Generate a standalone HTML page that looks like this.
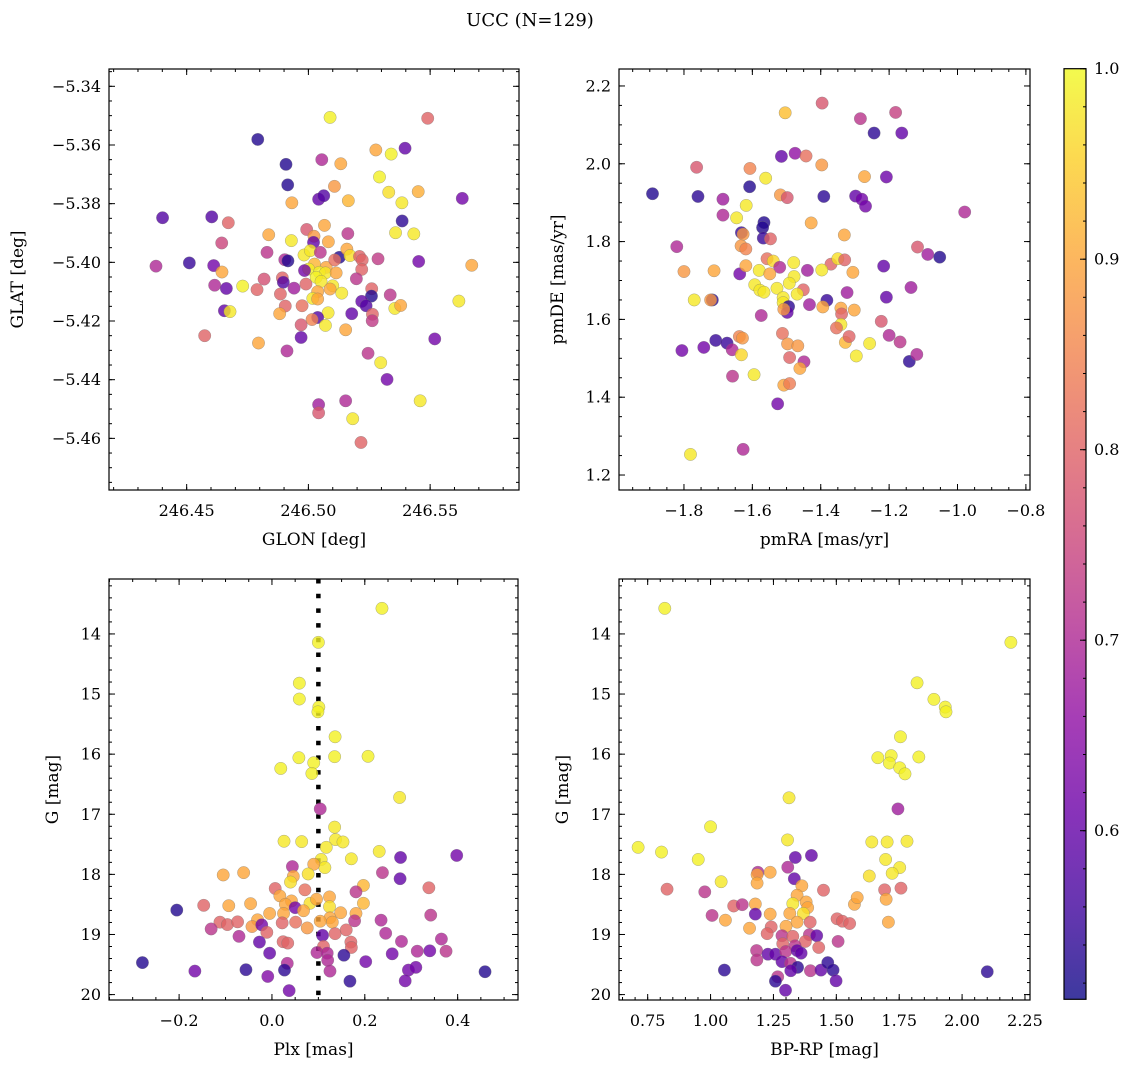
<!DOCTYPE html>
<html><head><meta charset="utf-8">
<style>
html,body{margin:0;padding:0;background:#fff;}
svg{display:block;font-family:"DejaVu Serif","Liberation Serif",serif;}
</style></head>
<body>
<svg id="fig" width="1136" height="1068" viewBox="0 0 1136 1068" xmlns="http://www.w3.org/2000/svg">
<text x="530" y="26" font-size="18" text-anchor="middle">UCC (N=129)</text>
</svg>
<script>
// ---------- Panel A: GLON / GLAT ----------
const glon=[246.5089,246.5490,246.4792,246.5277,246.5340,246.5397,246.5055,246.5133,246.4908,246.4915,246.5107,246.5292,246.5042,246.5063,246.4932,246.5164,246.5330,246.5451,246.5384,246.5632,246.4401,246.4603,246.4671,246.5385,246.5358,246.5433,246.4837,246.4993,246.5066,246.5162,246.4644,246.4930,246.5023,246.5082,246.5021,246.4830,246.4982,246.5008,246.5049,246.5127,246.5158,246.5171,246.5210,246.5221,246.5286,246.4903,246.4916,246.4374,246.4511,246.4611,246.4645,246.5453,246.5671,246.5025,246.5073,246.5108,246.5001,246.4984,246.5045,246.5070,246.5114,246.5219,246.5032,246.5197,246.4818,246.4893,246.4730,246.4615,246.4663,246.4789,246.4897,246.4941,246.4990,246.5052,246.5100,246.5089,246.5137,246.5260,246.5259,246.5336,246.4885,246.5038,246.5018,246.5038,246.5219,246.5237,246.5618,246.4655,246.4678,246.4905,246.4974,246.5355,246.5379,246.4882,246.5081,246.5178,246.5263,246.5262,246.5038,246.5015,246.4970,246.5070,246.5153,246.4574,246.4970,246.5519,246.4795,246.4912,246.5245,246.5297,246.5323,246.5459,246.5042,246.5153,246.5042,246.5182,246.5216];
const glat=[-5.3506,-5.3509,-5.3581,-5.3617,-5.3631,-5.3611,-5.3650,-5.3664,-5.3666,-5.3736,-5.3741,-5.3709,-5.3785,-5.3773,-5.3797,-5.3790,-5.3761,-5.3759,-5.3797,-5.3782,-5.3848,-5.3845,-5.3865,-5.3859,-5.3899,-5.3903,-5.3906,-5.3888,-5.3874,-5.3902,-5.3934,-5.3926,-5.3911,-5.3930,-5.3932,-5.3966,-5.3975,-5.3960,-5.3966,-5.3983,-5.3955,-5.3977,-5.3980,-5.3992,-5.3988,-5.3991,-5.3995,-5.4013,-5.4002,-5.4011,-5.4033,-5.3997,-5.4010,-5.4006,-5.4017,-5.3992,-5.4023,-5.4028,-5.4034,-5.4036,-5.4036,-5.4024,-5.4051,-5.4056,-5.4057,-5.4053,-5.4081,-5.4078,-5.4089,-5.4093,-5.4068,-5.4088,-5.4074,-5.4065,-5.4080,-5.4091,-5.4105,-5.4090,-5.4115,-5.4111,-5.4108,-5.4100,-5.4123,-5.4125,-5.4133,-5.4148,-5.4132,-5.4165,-5.4168,-5.4149,-5.4148,-5.4157,-5.4147,-5.4175,-5.4172,-5.4175,-5.4177,-5.4199,-5.4188,-5.4195,-5.4213,-5.4215,-5.4230,-5.4250,-5.4256,-5.4261,-5.4275,-5.4302,-5.4310,-5.4342,-5.4399,-5.4472,-5.4485,-5.4472,-5.4513,-5.4533,-5.4614];
const probA=[.99,.80,.53,.90,.99,.60,.70,.90,.53,.53,.88,.99,.60,.58,.90,.92,.97,.91,.98,.62,.58,.58,.80,.54,.98,.98,.90,.78,.90,.72,.75,.98,.88,.90,.60,.72,.98,.98,.72,.53,.90,.97,.80,.80,.73,.70,.53,.70,.55,.62,.90,.62,.90,.92,.90,.82,.99,.62,.99,.98,.90,.80,.99,.72,.77,.80,.99,.70,.60,.80,.58,.68,.80,.98,.98,.90,.98,.80,.53,.72,.80,.90,.98,.90,.60,.58,.98,.60,.98,.80,.82,.98,.90,.90,.98,.60,.80,.73,.58,.85,.78,.98,.90,.80,.60,.62,.90,.70,.72,.98,.62,.98,.68,.70,.78,.98,.80];
// ---------- Panel B: pmRA / pmDE ----------
const pmra=[-1.396,-1.504,-1.284,-1.181,-1.244,-1.163,-1.515,-1.475,-1.443,-1.397,-1.272,-1.208,-1.763,-1.607,-1.561,-1.892,-1.759,-1.608,-1.686,-1.518,-1.498,-1.391,-1.298,-1.280,-1.269,-1.618,-1.686,-1.646,-0.979,-1.428,-1.566,-1.570,-1.632,-1.627,-1.331,-1.568,-1.547,-1.821,-1.633,-1.619,-1.117,-1.087,-1.052,-1.557,-1.539,-1.520,-1.479,-1.370,-1.350,-1.330,-1.800,-1.712,-1.637,-1.619,-1.580,-1.549,-1.478,-1.439,-1.397,-1.306,-1.216,-1.593,-1.578,-1.566,-1.528,-1.492,-1.451,-1.510,-1.469,-1.323,-1.136,-1.770,-1.717,-1.722,-1.510,-1.382,-1.394,-1.433,-1.208,-1.494,-1.498,-1.508,-1.574,-1.341,-1.339,-1.302,-1.223,-1.341,-1.354,-1.512,-1.200,-1.168,-1.806,-1.742,-1.707,-1.674,-1.659,-1.638,-1.629,-1.497,-1.467,-1.328,-1.317,-1.257,-1.141,-1.119,-1.632,-1.491,-1.449,-1.461,-1.296,-1.658,-1.595,-1.508,-1.491,-1.526,-1.627,-1.781];
const pmde=[2.156,2.131,2.116,2.132,2.079,2.079,2.019,2.027,2.020,1.997,1.967,1.966,1.991,1.988,1.963,1.923,1.916,1.941,1.909,1.920,1.913,1.916,1.917,1.909,1.891,1.893,1.868,1.861,1.876,1.848,1.849,1.836,1.823,1.819,1.817,1.809,1.807,1.787,1.789,1.781,1.786,1.767,1.760,1.756,1.750,1.734,1.746,1.742,1.756,1.753,1.723,1.725,1.717,1.738,1.726,1.717,1.710,1.726,1.727,1.721,1.737,1.689,1.675,1.670,1.680,1.693,1.676,1.656,1.665,1.669,1.682,1.650,1.650,1.650,1.643,1.649,1.632,1.638,1.657,1.633,1.618,1.626,1.610,1.629,1.614,1.624,1.595,1.587,1.578,1.564,1.559,1.542,1.520,1.528,1.546,1.539,1.522,1.556,1.552,1.537,1.532,1.541,1.556,1.538,1.492,1.510,1.509,1.502,1.491,1.474,1.506,1.454,1.458,1.431,1.435,1.383,1.266,1.253];
const probB=[.78,.93,.72,.74,.54,.60,.60,.66,.82,.88,.90,.61,.78,.85,.98,.53,.54,.53,.68,.88,.78,.54,.60,.62,.62,.98,.70,.98,.70,.90,.53,.53,.55,.88,.90,.55,.80,.70,.88,.85,.78,.68,.53,.82,.96,.70,.98,.80,.97,.80,.88,.90,.62,.90,.98,.90,.98,.68,.98,.90,.60,.98,.98,.98,.98,.98,.80,.98,.98,.68,.68,.98,.54,.88,.98,.55,.90,.68,.60,.54,.60,.88,.70,.90,.80,.90,.78,.98,.82,.82,.70,.72,.62,.62,.55,.55,.70,.85,.88,.88,.88,.92,.80,.98,.54,.70,.96,.80,.70,.90,.98,.72,.98,.90,.84,.62,.70,.98];
// ---------- Panel C: Plx / G ----------
const plx=[0.237,0.100,0.059,0.059,0.101,0.099,0.136,0.058,0.135,0.207,0.019,0.090,0.086,0.275,0.104,0.135,0.026,0.064,0.137,0.153,0.117,0.231,0.106,0.171,0.277,0.398,0.044,0.114,0.090,-0.105,-0.061,0.078,0.238,0.276,0.046,0.040,0.071,0.007,0.197,0.181,0.338,0.017,0.124,0.042,0.082,0.096,0.197,-0.147,-0.093,-0.046,0.029,-0.205,0.050,0.124,0.068,-0.005,0.025,0.148,0.181,0.342,0.125,0.178,-0.031,-0.112,-0.096,-0.074,-0.043,-0.022,0.022,0.051,0.076,0.104,0.130,0.235,-0.131,-0.011,0.109,0.136,0.160,0.245,-0.071,-0.027,0.024,0.034,0.170,0.279,0.365,0.111,0.171,-0.005,0.097,0.119,0.155,0.259,0.313,0.340,0.375,-0.279,0.120,0.202,0.033,0.027,-0.166,-0.056,0.125,0.294,0.310,0.459,-0.009,0.168,0.287,0.037];
const gmagC=[13.574,14.140,14.819,15.083,15.217,15.296,15.711,16.059,16.042,16.036,16.238,16.143,16.322,16.720,16.911,17.214,17.449,17.455,17.421,17.461,17.550,17.618,17.752,17.741,17.719,17.685,17.870,17.887,17.831,18.010,17.971,17.993,17.971,18.072,18.033,18.128,18.257,18.235,18.184,18.291,18.223,18.358,18.375,18.442,18.481,18.414,18.481,18.515,18.521,18.487,18.498,18.594,18.554,18.538,18.605,18.650,18.650,18.638,18.650,18.678,18.723,18.773,18.756,18.795,18.835,18.790,18.868,18.840,18.807,18.795,18.891,18.779,18.795,18.762,18.908,18.964,19.014,18.986,18.924,18.980,19.031,19.126,19.121,19.143,19.126,19.115,19.076,19.199,19.216,19.311,19.300,19.311,19.345,19.322,19.278,19.272,19.278,19.468,19.429,19.452,19.480,19.592,19.609,19.586,19.609,19.592,19.547,19.620,19.698,19.777,19.772,19.934];
const probC=[.99,.99,.99,.99,.99,.99,.99,.99,.99,.99,.99,.99,.99,.98,.70,.98,.98,.98,.98,.98,.98,.98,.98,.98,.60,.62,.70,.98,.90,.90,.90,.97,.72,.60,.90,.97,.82,.80,.92,.72,.80,.90,.90,.90,.97,.90,.92,.80,.90,.90,.90,.53,.62,.97,.90,.90,.90,.90,.90,.72,.90,.72,.90,.80,.80,.80,.88,.62,.80,.82,.88,.90,.90,.70,.72,.80,.60,.80,.80,.70,.70,.60,.80,.80,.80,.70,.70,.80,.80,.60,.70,.70,.54,.62,.70,.62,.72,.53,.70,.62,.70,.54,.62,.54,.70,.62,.62,.53,.64,.54,.62,.62];
// ---------- Panel D: BP-RP / G ----------
const bprp=[0.818,2.194,1.821,1.888,1.933,1.936,1.755,1.665,1.718,1.828,1.711,1.752,1.773,1.312,1.745,1.000,0.712,0.805,0.951,1.306,1.641,1.702,1.781,1.696,1.752,1.722,1.631,1.042,1.401,1.337,1.307,1.333,1.188,1.185,1.185,1.237,1.363,0.827,0.977,1.449,1.757,1.692,1.698,1.572,1.583,1.092,1.126,1.178,1.344,1.327,1.380,1.386,1.369,1.178,1.237,1.315,1.006,1.059,1.396,1.344,1.300,1.503,1.524,1.553,1.707,1.155,1.241,1.225,1.284,1.327,1.393,1.422,1.507,1.377,1.430,1.287,1.336,1.183,1.228,1.258,1.299,1.344,1.360,1.184,1.284,1.318,1.055,1.346,1.319,1.397,1.439,1.466,1.487,1.499,1.267,1.258,1.298,2.100];
const gmagD=[13.574,14.140,14.813,15.088,15.217,15.296,15.711,16.059,16.025,16.047,16.148,16.227,16.328,16.726,16.911,17.208,17.550,17.629,17.752,17.427,17.461,17.461,17.449,17.752,17.887,17.982,18.027,18.122,17.685,17.719,17.881,18.072,17.965,18.005,18.145,17.965,18.190,18.246,18.291,18.263,18.229,18.257,18.414,18.498,18.386,18.526,18.504,18.493,18.347,18.487,18.459,18.554,18.650,18.661,18.661,18.650,18.683,18.762,18.795,18.795,18.863,18.739,18.779,18.818,18.795,18.896,18.874,18.986,19.020,19.031,19.003,19.020,19.115,19.115,19.216,19.154,19.188,19.267,19.328,19.328,19.283,19.267,19.311,19.424,19.452,19.480,19.592,19.547,19.603,19.603,19.592,19.468,19.592,19.771,19.704,19.777,19.928,19.620];
const probD=[.99,.99,.99,.99,.99,.99,.99,.99,.99,.99,.99,.99,.99,.98,.68,.99,.99,.99,.99,.98,.98,.98,.98,.98,.98,.98,.97,.98,.60,.60,.70,.60,.70,.90,.90,.90,.90,.80,.72,.80,.80,.80,.90,.90,.90,.80,.72,.90,.90,.98,.90,.90,.97,.60,.90,.90,.72,.90,.80,.90,.90,.80,.80,.80,.90,.90,.80,.80,.72,.80,.72,.60,.72,.80,.80,.80,.72,.72,.60,.60,.72,.60,.60,.72,.60,.72,.54,.54,.60,.72,.60,.54,.54,.60,.72,.54,.60,.54];
// tick labels
const ticksA_x=[246.45,246.50,246.55], ticksA_y=[-5.34,-5.36,-5.38,-5.40,-5.42,-5.44,-5.46];
const ticksB_x=[-1.8,-1.6,-1.4,-1.2,-1.0,-0.8], ticksB_y=[1.2,1.4,1.6,1.8,2.0,2.2];
const ticksC_x=[-0.2,0.0,0.2,0.4], ticksG=[14,15,16,17,18,19,20];
const ticksD_x=[0.75,1.00,1.25,1.50,1.75,2.00,2.25];
const ticksCbar=[0.6,0.7,0.8,0.9,1.0];
const plxLine=[0.1];

const NS="http://www.w3.org/2000/svg";
const svg=document.getElementById('fig');
function mk(tag,attrs,parent){const e=document.createElementNS(NS,tag);for(const k in attrs)e.setAttribute(k,attrs[k]);(parent||svg).appendChild(e);return e;}
const stops=[[0,[13,8,135]],[0.1,[65,4,157]],[0.2,[106,0,168]],[0.3,[143,13,164]],[0.4,[177,42,144]],[0.5,[204,71,120]],[0.6,[225,100,98]],[0.7,[242,132,75]],[0.8,[252,166,54]],[0.9,[252,206,37]],[1,[240,249,33]]];
function plasma(t){t=Math.max(0,Math.min(1,t));for(let i=1;i<stops.length;i++){if(t<=stops[i][0]){const a=stops[i-1],b=stops[i];const f=(t-a[0])/(b[0]-a[0]);const c=a[1].map((v,j)=>Math.round(v+(b[1][j]-v)*f));return `rgb(${c[0]},${c[1]},${c[2]})`;}}return 'rgb(240,249,33)';}
const VMIN=0.5115,VMAX=1.0;
function col(p){return plasma((p-VMIN)/(VMAX-VMIN));}
function fmt(v,d){const s=Math.abs(v).toFixed(d);return (v<0?'\u2212':'')+s;}

function panel(o){
  const g=mk('g',{});
  
  
  const sx=v=>o.x0+(v-o.xmin)/(o.xmax-o.xmin)*(o.x1-o.x0);
  const sy=o.invert?(v=>o.y0+(v-o.ymin)/(o.ymax-o.ymin)*(o.y1-o.y0)):(v=>o.y1-(v-o.ymin)/(o.ymax-o.ymin)*(o.y1-o.y0));
  if(o.vline){o.vline.forEach(v=>{const l=mk('line',{x1:sx(v),x2:sx(v),y1:o.y0,y2:o.y1,stroke:'#000','stroke-width':4.5,'stroke-dasharray':'4.5 10.2'},g);
    
    });}
  const n=Math.min(o.xs.length,o.ys.length,o.ps.length);
  for(let i=0;i<n;i++){
    const c=mk('circle',{cx:sx(o.xs[i]),cy:sy(o.ys[i]),r:6.2,fill:col(o.ps[i]),'fill-opacity':0.8,stroke:'#777','stroke-opacity':0.6,'stroke-width':0.5},g);
    
    
  }
  const tg=mk('g',{stroke:'#000','stroke-width':1},g);
  const tick=(x1,y1,x2,y2)=>mk('line',{x1,y1,x2,y2},tg);
  for(let v=o.xminor0;v<=o.xmax+1e-9;v+=o.xminorStep){const X=sx(v);if(X<o.x0-0.5||X>o.x1+0.5)continue;tick(X,o.y1,X,o.y1-3);tick(X,o.y0,X,o.y0+3);}
  for(let v=o.yminor0;v<=o.ymax+1e-9;v+=o.yminorStep){const Y=sy(v);if(Y<o.y0-0.5||Y>o.y1+0.5)continue;tick(o.x0,Y,o.x0+3,Y);tick(o.x1,Y,o.x1-3,Y);}
  o.xt.forEach(v=>{const X=sx(v);tick(X,o.y1,X,o.y1-6);tick(X,o.y0,X,o.y0+6);
    const t=mk('text',{x:X,y:o.y1+26,'font-size':16,'text-anchor':'middle'},g);t.textContent=fmt(v,o.xd);
    
    });
  o.yt.forEach(v=>{const Y=sy(v);tick(o.x0,Y,o.x0+6,Y);tick(o.x1,Y,o.x1-6,Y);
    const t=mk('text',{x:o.x0-8,y:Y+5.5,'font-size':16,'text-anchor':'end'},g);t.textContent=fmt(v,o.yd);
    
    });
  const fr=mk('rect',{x:o.x0,y:o.y0,width:o.x1-o.x0,height:o.y1-o.y0,fill:'none',stroke:'#000','stroke-width':1.2},g);
  
  
  const xl=mk('text',{x:(o.x0+o.x1)/2,y:o.y1+55,'font-size':17,'text-anchor':'middle'},g);xl.textContent=o.xlabel;
  
  
  const yc=(o.y0+o.y1)/2;
  const yl=mk('text',{x:o.ylx,y:yc,'font-size':17,'text-anchor':'middle',transform:`rotate(-90 ${o.ylx} ${yc})`},g);yl.textContent=o.ylabel;
  
  
}

panel({name:'glon-glat-panel',x0:109,x1:519,y0:69,y1:490,xmin:246.4181,xmax:246.5865,ymin:-5.4776,ymax:-5.3341,
  xs:glon,ys:glat,ps:probA,xt:ticksA_x,yt:ticksA_y,xd:2,yd:2,xminor0:246.42,xminorStep:0.01,yminor0:-5.475,yminorStep:0.005,
  xlabel:'GLON [deg]',ylabel:'GLAT [deg]',ylx:23});
panel({name:'pm-panel',x0:619,x1:1030,y0:69,y1:490,xmin:-1.990,xmax:-0.788,ymin:1.1615,ymax:2.2436,
  xs:pmra,ys:pmde,ps:probB,xt:ticksB_x,yt:ticksB_y,xd:1,yd:1,xminor0:-1.95,xminorStep:0.05,yminor0:1.2,yminorStep:0.05,
  xlabel:'pmRA [mas/yr]',ylabel:'pmDE [mas/yr]',ylx:563});
panel({name:'plx-g-panel',x0:109,x1:518,y0:579,y1:1000,xmin:-0.351,xmax:0.530,ymin:13.086,ymax:20.09,invert:true,
  xs:plx,ys:gmagC,ps:probC,xt:ticksC_x,yt:ticksG,xd:1,yd:0,xminor0:-0.35,xminorStep:0.05,yminor0:13.2,yminorStep:0.2,
  xlabel:'Plx [mas]',ylabel:'G [mag]',ylx:58,vline:plxLine});
panel({name:'cmd-panel',x0:619,x1:1030,y0:579,y1:1000,xmin:0.636,xmax:2.270,ymin:13.086,ymax:20.09,invert:true,
  xs:bprp,ys:gmagD,ps:probD,xt:ticksD_x,yt:ticksG,xd:2,yd:0,xminor0:0.65,xminorStep:0.05,yminor0:13.2,yminorStep:0.2,
  xlabel:'BP-RP [mag]',ylabel:'G [mag]',ylx:568});

const cb=mk('g',{});


const defs=mk('defs',{},cb);
const lg=mk('linearGradient',{id:'cbg',x1:0,y1:1,x2:0,y2:0},defs);
for(let i=0;i<=20;i++){const t=i/20;mk('stop',{offset:t,'stop-color':plasma(t)},lg);}
const CB={x0:1064,x1:1086,y0:68.7,y1:999.3};
const cy=v=>CB.y1-(v-VMIN)/(VMAX-VMIN)*(CB.y1-CB.y0);
mk('rect',{x:CB.x0,y:CB.y0,width:CB.x1-CB.x0,height:CB.y1-CB.y0,fill:'url(#cbg)','fill-opacity':0.8,stroke:'#000','stroke-width':1.2},cb);
for(let v=0.52;v<=1.0001;v+=0.02){mk('line',{x1:CB.x1,x2:CB.x1-3,y1:cy(v),y2:cy(v),stroke:'#000'},cb);}
ticksCbar.forEach(v=>{mk('line',{x1:CB.x1,x2:CB.x1-6,y1:cy(v),y2:cy(v),stroke:'#000'},cb);
  const t=mk('text',{x:CB.x1+8,y:cy(v)+5.5,'font-size':16},cb);t.textContent=v.toFixed(1);
  
  });
</script>
</body></html>
